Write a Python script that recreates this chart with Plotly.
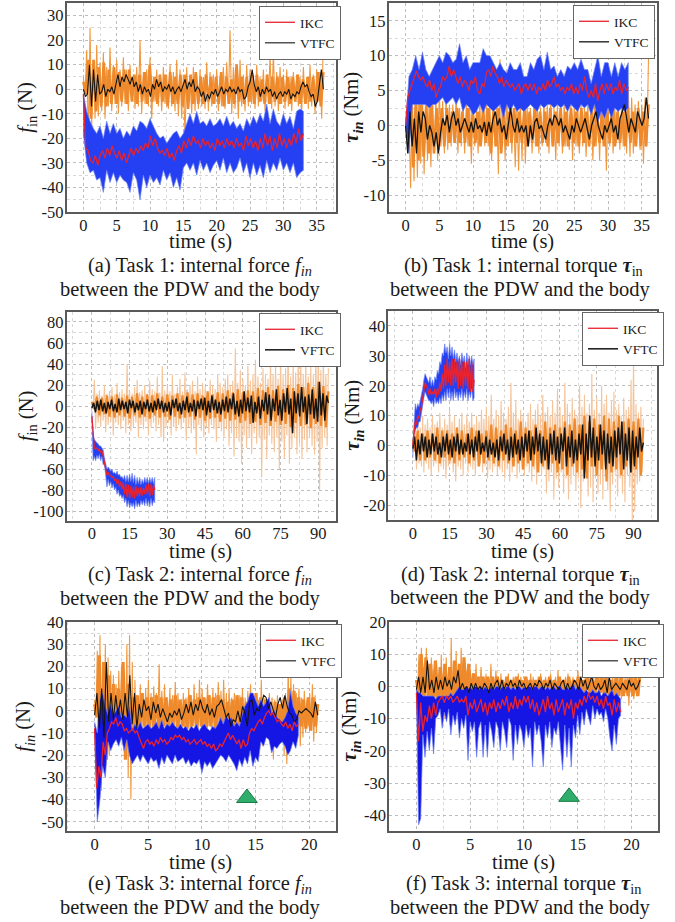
import numpy as np
import plotly.graph_objects as go

W, H = 675, 922

# ---------- Task 1 force ----------
a_ikc_end = 33; a_vtfc_end = 36
a_ikc_hi = [-2,-9,-13,-16,-18,-15,-20,-13,-18,-14,-18,-16,-20,-17,-19,-15,-17,-13,-14,-16,-12,-15,-18,-20,-19,-22,-20,-18,-17,-20,-18,-14,-10,-14,-9,-14,-13,-15,-12,-15,-14,-12,-15,-11,-15,-13,-16,-14,-17,-12,-15,-11,-14,-10,-13,-6,-14,-8,-13,-15,-10,-14,-11,-16,-9,-8,-9]
a_ikc_lo = [-18,-30,-34,-33,-37,-36,-42,-33,-38,-34,-38,-35,-37,-38,-42,-34,-37,-45,-35,-40,-35,-38,-36,-39,-33,-37,-34,-40,-36,-41,-32,-30,-33,-30,-35,-29,-33,-30,-34,-31,-29,-33,-28,-34,-30,-34,-32,-28,-34,-30,-36,-30,-35,-31,-36,-29,-34,-30,-33,-28,-33,-30,-34,-30,-36,-34,-33]
a_ikc_mean = [-2,-24,-25,-29,-30,-27,-31,-27,-25,-28,-24,-27,-23,-26,-28,-25,-29,-26,-30,-27,-24,-27,-24,-26,-23,-25,-22,-24,-19,-23,-20,-24,-26,-25,-27,-24,-28,-26,-29,-25,-23,-26,-21,-24,-20,-23,-19,-22,-21,-24,-20,-23,-21,-24,-22,-25,-20,-23,-21,-24,-20,-23,-21,-24,-20,-23,-22,-25,-19,-23,-20,-24,-21,-25,-20,-24,-18,-23,-19,-25,-20,-24,-18,-23,-20,-24,-20,-23,-18,-22,-16,-21,-18]
a_vtfc_hi = [5,16,25,12,18,11,15,9,17,10,12,8,13,8,10,6,9,20,7,8,13,5,8,6,9,6,10,7,12,8,6,9,5,9,6,8,5,11,7,6,8,5,9,11,24,9,7,12,6,10,8,6,10,5,8,6,14,15,7,9,6,8,5,7,6,5,9,5,10,6,8,7,22]
a_vtfc_lo = [-2,-22,-15,-12,-11,-9,-12,-7,-9,-6,-10,-7,-6,-9,-5,-8,-7,-10,-6,-7,-12,-5,-7,-9,-6,-8,-7,-9,-11,-12,-20,-8,-10,-9,-8,-7,-8,-9,-7,-6,-9,-7,-8,-6,-10,-8,-12,-7,-9,-7,-6,-8,-7,-5,-9,-6,-8,-7,-9,-6,-8,-7,-9,-5,-7,-9,-6,-8,-7,-10,-5,-12,-21]
a_vtfc_in_hi = [3,12,12,9,11,8,9,7,8,8,6,6,7,10,5,6,6,7,5,6,6,6,7,5,6,5,5,7,5,4,10,5,5,6,6,4,6,5,5,5,5,5,6,4,5,5,7,7]
a_vtfc_in_lo = [-2,-12,-9,-7,-7,-6,-6,-5,-6,-5,-6,-5,-6,-5,-6,-5,-7,-6,-6,-7,-8,-6,-6,-6,-5,-6,-6,-7,-6,-6,-5,-6,-5,-6,-5,-6,-6,-5,-6,-5,-6,-5,-6,-6,-5,-6,-7,-6]
a_vtfc_mean = [0,-3,-2,10,-7,8,-5,6,-2,-1,2,-3,0,-1,1,-2,2,6,1,5,3,6,4,2,5,1,3,-1,2,-2,1,-1,0,-3,2,0,4,1,3,-1,1,0,2,-1,1,-2,0,1,-1,2,4,0,3,1,4,-1,1,0,-3,-1,-5,-2,-4,-1,-2,0,-3,-1,1,-2,0,-1,1,-1,0,-2,1,-1,0,-4,-3,1,3,8,2,-1,1,-3,0,-2,1,-1,0,-3,-1,-4,-2,-1,-3,-1,-2,0,-4,-2,-3,-1,-2,1,3,1,2,-1,-3,-2,-7,-5,1,8,0]

# ---------- Task 1 torque ----------
b_ikc_end = 33; b_vtfc_end = 36
b_ikc_hi = [0,7,8,10,8,10.5,8,7,8,9,10,9,10.5,10,9,9.5,11.7,9,10,8,9,9,9,11,10,10,9,8,9,8,7.5,9,8,8,9,7,7,9,8,9.5,10,8,10.5,8,8.5,7,8,7,8.5,8,9,8,9.5,8,8,6,8,10,7,9,9,7,9,7,9,8,9]
b_ikc_lo = [0,-4,3,3,3,3,3,2.5,3,3,3.5,4,3,3.5,4,3,4,2,3,2.5,1.5,2,3,1.8,3,2.5,2,2.5,3,1,3,2,3,2,2.5,2,2.5,3,2.5,2,3,2.5,3,3,2.5,3,2.5,3,2,3,2.5,2,3,2.5,3,1.5,3,0.5,2,1,2.5,1,2.5,2,2.5,2,2.5]
b_ikc_mean = [0,4,5,6,7,7.8,7,6.5,7,6,5.5,6.5,5,6,4,5,5.5,7,6.5,7,8.5,7,8,7,6,7,5.5,6.5,6,5,6.5,6,7,5,4.5,6,5.5,7.5,8,7,8.5,7.5,7,6,7,5.5,6.5,6,5.5,6,5,5.5,6,4.5,5.5,6,5,6,5,6,4.5,5.5,5,6,5,6.5,5.5,6,7,5.5,6,5,5.5,4.5,5.5,5,6,4.5,5.5,4.5,6,5,7,5,4,5,4,6,3.5,5,6,4.5,6,5,6,4.5,5.5,5,6.5,4.5,6,5,5.5]
b_vtfc_hi = [1,1,5,4.5,6,5,4,3.5,4,4,5,3.5,4,3,3,4.5,2.5,3,3,2.5,3,2.5,3,2.5,3,3,4,2.5,9.5,3,4,3,2.5,3,3.5,2.5,3,2.5,3,3,2.5,3.5,3,4,2.5,3,2.5,3,2.5,3,3,3.5,3,2.5,3,2.5,3,2.5,3.5,3,2.5,3,2.5,3,2.5,3,5.5,4,3,3.5,3,4,10]
b_vtfc_lo = [0,-9,-8,-7.5,-5.5,-7,-5,-6,-4,-5,-3,-4,-3.5,-3,-2.5,-4,-3,-4,-3,-5.5,-3,-4,-2.5,-3,-3,-5,-3,-7,-3,-5,-3,-4,-6,-6.5,-5,-5.5,-3,-4,-3,-4,-3,-2.5,-4,-3,-5,-3,-4,-3,-3.5,-5,-3,-4,-3,-4.5,-3,-5,-3,-5,-3,-6.5,-3,-4,-2.5,-3.5,-3,-4,-4.5,-4,-3,-3.5,-5.5,-3,-1.5]
b_vtfc_in_hi = [0,4,4,3.5,3,3,2.5,2.5,2.5,2,2.5,2,2.5,2,2,2.5,2.5,2,2.5,2,2,2.5,2,2.5,2,2.5,2,2,2.5,2,2.5,2,2.5,2,2.5,2,2.5,2,2,2,3,2,2,2.5,2,2.5,2,3]
b_vtfc_in_lo = [0,-6,-5,-4.5,-4,-4,-3,-3,-2.5,-2.5,-2.5,-2.5,-3,-2.5,-3,-2.5,-4,-3,-4,-3,-2.5,-2.5,-2.5,-3,-2.5,-3,-2.5,-3,-3,-2.5,-3,-3,-2.5,-3,-2.5,-3,-3,-2.5,-3,-2.5,-3,-2.5,-3,-2.5,-3,-3,-3,-1]
b_vtfc_mean = [0,-4,2,-3,1,-4,2,-1,2,1,-2,0,-1,-3,-1,-4,-1,1,0,1.5,-1,1,2,0,1,-1,0,1,0,-1,0.5,-1,1,-0.5,0,-1,0.5,-1.5,0.5,-1,1,2,0,1,-1,0,-2,0,2.5,0,-1,1,-1,0,-1,0,-3,0,-2,0.5,1,-0.5,0,-1,-2,0,1,0,1.5,1,0,1,-1,0,-1,-2,0,-1,1,0,-1,0,1,-0.5,-2,0,1,2,0,-1,-2,0,-1,0,1,-1,0,-2,1,2,3,1,-1,1,0,-1,2,1,0,1,4,1]

# ---------- Task 2 force ----------
c_ikc_end = 25; c_vftc_end = 94
c_ikc_hi = [-5,-28,-32,-34,-35,-36,-38,-38,-40,-42,-50,-55,-60,-58,-60,-62,-60,-64,-63,-65,-62,-66,-65,-68,-67,-70,-66,-72,-66,-72,-65,-72,-64,-73,-66,-75,-68,-74,-68,-75,-70,-74,-68,-73,-68,-74,-68,-73,-68,-74,-68]
c_ikc_lo = [-10,-52,-48,-52,-47,-50,-46,-52,-48,-56,-55,-66,-77,-70,-76,-72,-78,-74,-80,-77,-84,-80,-86,-84,-88,-85,-92,-88,-96,-90,-97,-92,-96,-92,-98,-90,-96,-92,-96,-90,-94,-90,-95,-88,-95,-90,-96,-88,-95,-90,-92]
c_ikc_mean = [-10,-30,-40,-41,-40,-42,-41,-44,-43,-48,-53,-58,-66,-63,-66,-66,-68,-67,-71,-69,-74,-70,-77,-72,-79,-73,-84,-74,-87,-75,-88,-76,-87,-77,-88,-76,-86,-78,-86,-77,-85,-78,-84,-75,-84,-74,-86,-74,-85,-75,-80]
c_vftc_hi = [5,25,12,15,10,20,12,14,18,11,22,13,16,12,40,14,12,18,25,13,15,20,12,24,16,14,28,13,38,15,20,14,30,12,18,26,14,32,16,20,24,14,28,16,22,18,14,25,20,16,30,22,18,26,30,20,24,55,22,34,26,20,38,24,30,44,28,22,36,30,26,46,30,40,26,48,30,36,55,28,42,32,46,52,30,44,28,38,30,50,56,34,46,30,36]
c_vftc_lo = [-3,-22,-16,-20,-14,-25,-18,-15,-28,-16,-18,-22,-14,-26,-18,-24,-20,-16,-30,-18,-22,-15,-28,-20,-16,-24,-18,-30,-34,-20,-16,-28,-20,-24,-18,-22,-16,-32,-20,-26,-22,-46,-18,-24,-30,-20,-26,-18,-22,-34,-20,-24,-30,-22,-38,-26,-48,-30,-34,-55,-28,-40,-30,-46,-26,-36,-30,-68,-32,-50,-28,-36,-44,-30,-60,-34,-50,-28,-55,-40,-30,-46,-36,-50,-32,-44,-30,-38,-46,-34,-80,-40,-30,-38,-24]
c_vftc_in_hi = [4,9,8,10,9,11,8,10,9,12,9,11,10,12,9,11,10,12,10,13,11,12,10,14,11,13,12,15,13,16,13,15,14,17,15,18,15,19,16,20,17,21,18,22,18,23,19,14]
c_vftc_in_lo = [-3,-9,-8,-10,-11,-9,-10,-12,-9,-11,-10,-12,-9,-11,-10,-13,-10,-12,-11,-10,-13,-11,-14,-12,-11,-15,-12,-14,-13,-16,-14,-17,-15,-18,-16,-19,-15,-18,-17,-20,-16,-19,-18,-21,-17,-19,-20,-14]
c_vftc_mean = [-2,3,-6,5,-4,6,-5,3,-7,4,-3,6,-5,2,-6,7,-4,5,-3,4,-7,6,-2,5,-6,3,-4,5,-8,4,-3,6,-5,3,-6,5,-4,7,-3,5,-6,3,-5,4,-9,6,-2,7,-5,3,-8,5,-4,9,-6,3,-5,6,-10,5,-3,7,-4,8,-9,5,-6,10,-4,6,-7,4,-8,6,-5,9,-6,7,-3,12,-8,5,-10,6,-7,14,-5,8,-6,10,-16,4,-7,9,-12,6,-5,13,-8,11,-14,7,-5,16,-9,6,-14,12,-6,17,-8,7,-26,14,-7,12,-10,18,-6,9,-17,11,-8,16,-12,7,-15,23,-9,12,-14,10,3]

# ---------- Task 2 torque ----------
d_ikc_end = 25; d_vftc_end = 94
d_ikc_hi = [0,10,14,12,14,13,15,16,19,22,24,23,22,21,23,20,22,20,23,22,25,24,28,27,31,30,34,31,33,29,34,30,33,29,32,28,31,28,30,27,31,28,30,26,31,27,30,27,30,27,29]
d_ikc_lo = [-4,4,5,6,6,8,8,10,13,16,18,17,16,15,15,14,15,13,16,14,15,14,16,14,17,15,18,15,19,16,19,15,18,15,19,16,18,15,18,16,19,15,18,16,19,15,18,16,19,15,16]
d_ikc_mean = [0,5,8,7,10,9,12,13,16,19,21,20,19,17,19,17,18,17,19,16,19,17,21,18,24,19,27,20,29,21,28,20,29,20,29,21,28,19,29,20,28,19,28,20,28,19,29,18,28,18,22]
d_vftc_hi = [2,9,8,6,10,7,9,6,10,7,8,11,6,9,7,12,8,10,6,9,11,7,10,8,11,7,10,8,12,9,13,10,17,9,12,10,15,11,9,13,21,11,15,9,12,10,8,11,14,9,12,14,10,17,11,13,10,15,11,19,13,10,21,14,11,16,12,10,20,13,17,11,14,24,12,16,11,20,14,17,11,15,18,12,14,10,16,12,13,22,30,14,11,13,9]
d_vftc_lo = [-2,-8,-6,-7,-9,-6,-8,-10,-7,-6,-9,-7,-8,-11,-7,-6,-9,-12,-7,-8,-10,-6,-9,-7,-8,-10,-7,-6,-9,-7,-11,-8,-9,-7,-10,-8,-9,-11,-8,-12,-9,-7,-11,-9,-8,-10,-7,-9,-12,-8,-13,-9,-10,-8,-16,-12,-9,-18,-11,-14,-9,-16,-11,-18,-13,-10,-15,-11,-21,-12,-9,-17,-14,-19,-11,-16,-13,-18,-10,-15,-22,-13,-9,-17,-11,-16,-19,-10,-14,-25,-22,-13,-12,-9,-5]
d_vftc_in_hi = [2,5,4,5,4,6,5,5,4,6,5,4,6,5,4,5,7,6,5,7,6,5,8,6,5,7,5,8,6,7,6,8,7,9,7,10,8,9,7,10,9,8,10,8,9,8,9,6]
d_vftc_in_lo = [-2,-5,-5,-4,-5,-6,-4,-5,-6,-5,-4,-6,-5,-7,-6,-5,-6,-7,-5,-6,-7,-6,-8,-6,-7,-9,-7,-8,-6,-9,-8,-10,-7,-9,-8,-11,-7,-10,-8,-12,-9,-8,-10,-7,-9,-8,-10,-5]
d_vftc_mean = [-1,3,-5,2,-3,4,-2,3,-4,2,-3,4,-2,3,-3,1,-4,3,-2,4,-3,2,-4,3,-2,4,-3,2,-3,1,-2,4,-3,2,-4,3,-2,5,-3,1,-2,3,-4,2,-3,1,-4,2,-5,3,-2,4,-3,2,-5,3,-4,4,-3,2,-5,3,-4,4,-2,5,-5,3,-3,6,-2,4,-6,3,-5,2,-8,4,-3,5,-5,3,-6,4,-2,6,-7,3,-4,5,-6,2,-5,4,-3,7,-11,4,-5,10,-4,6,-7,3,-5,7,-3,5,-8,4,-6,3,-7,5,-4,6,-3,8,-8,4,-5,6,-9,5,-7,3,-4,6,-2,1]

# ---------- Task 3 force ----------
e_ikc_end = 19; e_vtfc_end = 20.8
e_ikc_hi = [-5,-10,5,8,2,-2,3,-2,0,2,-3,-2,-3,2,-9,-6,-8,-5,-8,-7,-6,-8,-7,-5,-8,-4,-8,-6,-7,-5,-7,-8,-6,-8,-7,-9,-7,-8,-6,-9,-7,-6,-8,-9,-7,-8,-6,-3,-6,-2,-4,-3,-7,-5,-7,-2,2,4,8,8,5,2,5,2,4,6,-1,0,-3,-4,-5,-3,0,9,2,-1,-3]
e_ikc_lo = [-8,-50,-40,-25,-30,-14,-18,-15,-13,-16,-12,-18,-13,-20,-24,-22,-20,-23,-20,-22,-24,-21,-23,-22,-26,-21,-24,-20,-22,-24,-20,-23,-22,-21,-24,-22,-25,-23,-24,-22,-28,-23,-25,-23,-26,-24,-22,-20,-21,-23,-20,-22,-24,-27,-22,-25,-21,-24,-18,-25,-21,-23,-14,-16,-12,-13,-19,-16,-17,-15,-14,-16,-20,-18,-14,-17,-11]
e_ikc_mean = [-8,-35,-25,-30,-14,-20,-10,-8,-5,-6,-3,-7,-5,-6,-9,-8,-10,-9,-8,-10,-9,-12,-15,-17,-14,-13,-15,-14,-16,-13,-15,-12,-14,-13,-15,-14,-12,-13,-11,-12,-11,-13,-12,-14,-13,-15,-14,-13,-15,-14,-13,-15,-14,-16,-15,-17,-15,-18,-17,-15,-16,-14,-12,-10,-13,-11,-13,-15,-13,-17,-13,-16,-15,-10,-8,-9,-7,-5,-4,-6,-3,-1,0,-2,-1,-3,-5,-4,-6,-7,-5,-8,-6,-9,-5,-7,-6]
e_vtfc_hi = [5,27,34,22,30,24,18,16,12,18,20,10,30,34,22,14,5,12,8,10,14,8,11,8,21,9,12,6,10,7,13,8,5,8,6,10,7,12,8,14,10,6,12,7,10,8,13,9,14,8,10,6,8,4,7,10,6,9,12,8,6,5,14,6,4,8,6,5,7,3,5,8,20,16,12,8,10,6,9,5,8,12,7,3]
e_vtfc_lo = [-3,-28,-36,-28,-20,-20,-15,-12,-10,-10,-15,-14,-30,-40,-22,-18,-7,-10,-8,-9,-7,-10,-8,-7,-9,-8,-9,-7,-10,-8,-9,-7,-8,-10,-9,-8,-7,-9,-8,-7,-10,-8,-7,-9,-8,-10,-9,-8,-7,-10,-8,-7,-9,-7,-8,-9,-7,-8,-10,-7,-9,-12,-16,-8,-7,-9,-22,-12,-10,-14,-20,-24,-18,-12,-10,-8,-16,-12,-10,-7,-9,-14,-10,-5]
e_vtfc_in_hi = [3,25,22,16,12,10,22,12,6,7,8,6,6,7,6,6,5,7,5,5,7,5,6,6,7,6,7,5,4,5,7,6,4,5,8,6,5,4,4,3,6,10,9,6,5,6,6,3]
e_vtfc_in_lo = [-3,-24,-22,-14,-10,-10,-22,-14,-7,-8,-7,-8,-7,-8,-7,-8,-7,-8,-7,-8,-7,-8,-7,-8,-7,-8,-7,-8,-7,-8,-7,-10,-7,-9,-12,-10,-12,-14,-12,-8,-10,-10,-8,-7,-8,-9,-7,-5]
e_vtfc_mean = [-2,8,-8,10,-12,22,-5,8,-4,7,-2,5,-4,8,-3,16,-6,8,-8,3,-3,5,0,2,-4,4,-1,3,-3,1,-2,-5,-1,-3,0,-2,1,-4,-1,3,-1,4,-2,3,0,5,1,-1,3,-2,1,-3,2,3,5,1,-3,-1,-7,-4,-5,0,-5,2,-1,-7,4,5,-2,1,0,3,7,6,1,4,1,-3,3,6,1,7,2,-1,-2,-5,-4,0,-1,0,1,0,-1,-3,4,-2]

# ---------- Task 3 torque ----------
f_ikc_end = 19; f_vftc_end = 20.8
f_ikc_hi = [-1,-2,-2,-3,-3,-3,-3,-3,-3,-4,-3,-3,-3,-3,-3,-3,-2,-3,-2,-1,0,-1,-1,0,-1,0,-1,0,0,-1,0,-1,0,-1,-1,0,-1,0,0,-1,0,-1,0,0,-1,0,-1,0,0,-1,0,-1,0,0,-1,0,0,-1,0,0,-1,0,-1,0,0,-1,0,0,-1,-1,0,-1,0,1,-1,0,0,-1,-2,-1,-2,-2,-1,-2,-2,-1,-3,-2,-2,-3,-2,-1,-3,-2,-3,-4]
f_ikc_lo = [-3,-43,-41,-15,-22,-14,-20,-13,-21,-10,-9,-7,-13,-8,-11,-7,-15,-9,-12,-8,-16,-10,-13,-9,-23,-11,-14,-11,-22,-13,-11,-22,-12,-22,-11,-14,-19,-11,-13,-20,-11,-14,-19,-10,-12,-23,-12,-18,-12,-14,-19,-12,-16,-13,-25,-11,-15,-12,-17,-25,-12,-16,-11,-19,-13,-15,-11,-17,-26,-12,-22,-13,-25,-12,-16,-9,-15,-8,-12,-7,-9,-12,-6,-10,-7,-9,-8,-11,-7,-10,-16,-20,-12,-18,-10,-9]
f_ikc_mean = [-2,-17,-5,-14,-9,-11,-6,-10,-5,-9,-5,-4,-3,-5,-3,-4,-3,-5,-4,-3,-5,-4,-5,-3,-9,-5,-7,-4,-8,-6,-4,-8,-5,-9,-5,-7,-4,-8,-5,-7,-4,-6,-3,-8,-5,-7,-3,-7,-4,-6,-3,-5,-3,-7,-4,-8,-5,-9,-6,-4,-8,-3,-7,-5,-9,-4,-8,-6,-4,-9,-5,-7,-4,-10,-5,-7,-4,-6,-3,-5,-2,-4,-3,-5,-3,-6,-4,-7,-3,-6,-5,-9,-4,-8,-5,-8]
f_vftc_hi = [2,10,12,6,12,7,9,5,8,4,10,7,9,5,15,6,11,7,12,5,5,3,2,4,7,3,6,3,4,2,7,3,5,3,4,2,3,4,2,3,2,4,3,2,3,2,4,3,2,3,4,2,3,2,4,2,3,5,3,2,3,4,2,3,2,5,3,2,3,8,3,5,3,2,4,3,5,3,2,4,3,5,2,4,3,6,3,4,3,2,6]
f_vftc_lo = [-2,-5,-3,-6,-4,-7,-5,-8,-6,-8,-6,-10,-7,-12,-9,-11,-8,-6,-4,-3,-3,-2,-3,-2,-3,-2,-2,-3,-2,-2,-3,-2,-2,-3,-2,-3,-2,-2,-3,-2,-2,-3,-2,-2,-3,-2,-2,-3,-2,-2,-3,-2,-2,-2,-3,-2,-2,-3,-2,-2,-3,-2,-2,-3,-2,-2,-3,-2,-2,-3,-2,-3,-2,-3,-2,-3,-3,-2,-3,-4,-3,-3,-4,-3,-2,-6,-2,-4,-2,-3,-6]
f_vftc_in_hi = [2,10,9,7,8,6,7,6,8,7,9,7,4,3,3,3,3,3,2,3,2,3,2,3,2,2,3,2,3,2,3,2,3,2,3,2,3,2,4,3,3,2,3,3,2,3,3,4]
f_vftc_in_lo = [-2,-4,-4,-5,-5,-5,-6,-7,-7,-6,-5,-4,-2,-2,-2,-2,-2,-2,-2,-2,-2,-2,-2,-2,-2,-2,-2,-2,-2,-2,-2,-2,-2,-2,-2,-2,-2,-2,-2,-3,-3,-3,-3,-3,-3,-3,-3,-3]
f_vftc_mean = [-1,3,-2,3,-2,8,-1,2,-2,3,-1,2,-1,3,0,2,-1,3,1,5,-1,1,-1,0,-2,1,-1,1,-1,0,-1,1,0,-2,1,-1,1,2,-1,2,-1,1,0,2,0,1,-1,2,0,1,-1,0,1,-1,1,0,2,1,-1,1,0,2,-1,1,0,-1,1,2,-1,1,-1,0,2,1,-1,3,0,2,-1,1,3,0,-1,1,-1,0,2,-2,3,-1,0,1,0,-1,1,0,-1,2,0,1,-1,0,2]

# ---------- Axis labels ----------
a_yticks = [30,20,10,0,-10,-20,-30,-40,-50]
b_yticks = [15,10,5,0,-5,-10]
c_yticks = [80,60,40,20,0,-20,-40,-60,-80,-100]
d_yticks = [40,30,20,10,0,-10,-20]
e_yticks = [40,30,20,10,0,-10,-20,-30,-40,-50]
f_yticks = [20,10,0,-10,-20,-30,-40]
x_ticks_t1 = [0,5,10,15,20,25,30,35]
x_ticks_t2 = [0,15,30,45,60,75,90]
x_ticks_t3 = [0,5,10,15,20]
marker_x = 14.2
marker_e_y = -39.3
marker_f_y = -34.3

ORANGE = "#EF8A2C"
BLUE, BLUE_PALE = "#2440F2", "rgba(110,130,245,0.7)"
BLUE_DEEP = "#1616E4"
FONT = "Liberation Serif"


def band(hi, lo, end, fill, line, lw, xa, ya):
    xh = np.linspace(0, end, len(hi))
    xl = np.linspace(0, end, len(lo))
    return go.Scatter(x=np.r_[xh, xl[::-1]], y=np.r_[hi, lo[::-1]], mode="lines", fill="toself",
                      fillcolor=fill, line=dict(color=line, width=lw), showlegend=False,
                      hoverinfo="skip", xaxis=xa, yaxis=ya)


def spikes(hi, lo, end, color, lw, xa, ya):
    # thin strokes running between the upper and lower readings
    xh = np.linspace(0, end, len(hi))
    xl = np.linspace(0, end, len(lo))
    step = xl[1] - xl[0]
    xs = np.r_[xh, xl + step / 2]
    ys = np.r_[hi, lo]
    order = np.argsort(xs, kind="stable")
    keep = xs[order] <= end
    return go.Scatter(x=xs[order][keep], y=ys[order][keep], mode="lines", line=dict(color=color, width=lw),
                      showlegend=False, hoverinfo="skip", xaxis=xa, yaxis=ya)


panels = [
 dict(key="a", box=(66.7, 335.7, 3.3, 212), xr=(-2.5, 37.85), yr=(-50, 35), yt=a_yticks, xt=x_ticks_t1, xm=2.5, ym=5,
      ikc=(a_ikc_hi, a_ikc_lo, a_ikc_mean, a_ikc_end), oth=(a_vtfc_hi, a_vtfc_lo, a_vtfc_mean, a_vtfc_end), name="VTFC",
      inner=(a_vtfc_in_hi, a_vtfc_in_lo), spike="#F0983F", blk=1.1, core=2.6,
      ytitle="<i>f</i><sub>in</sub> (N)", ytx=27, leg=(259, 6),
      cap=("(a) Task 1: internal force <i>f<sub>in</sub></i>", 200, 266, 190, 289), tx=201, ty=241, blue=BLUE),
 dict(key="b", box=(388.7, 657.3, 3.3, 212), xr=(-2.5, 37.3), yr=(-12.4, 17.5), yt=b_yticks, xt=x_ticks_t1, xm=2.5, ym=2.5,
      ikc=(b_ikc_hi, b_ikc_lo, b_ikc_mean, b_ikc_end), oth=(b_vtfc_hi, b_vtfc_lo, b_vtfc_mean, b_vtfc_end), name="VTFC",
      inner=(b_vtfc_in_hi, b_vtfc_in_lo), spike="#F0983F", blk=1.3, core=2.6,
      ytitle="<b><i>τ<sub>in</sub></i></b> (Nm)", ytx=353, leg=(573, 5),
      cap=("(b) Task 1: internal torque <b><i>τ</i></b><sub>in</sub>", 523.7, 266, 520, 289), tx=522.7, ty=241, blue=BLUE),
 dict(key="c", box=(66.7, 335.7, 311.7, 520.7), xr=(-10, 96.9), yr=(-109.2, 89.8), yt=c_yticks, xt=x_ticks_t2, xm=7.5, ym=10,
      ikc=(c_ikc_hi, c_ikc_lo, c_ikc_mean, c_ikc_end), oth=(c_vftc_hi, c_vftc_lo, c_vftc_mean, c_vftc_end), name="VFTC",
      inner=(c_vftc_in_hi, c_vftc_in_lo), spike="#F5C49A", blk=1.5, core=2.2,
      ytitle="<i>f</i><sub>in</sub> (N)", ytx=27, leg=(259, 313),
      cap=("(c) Task 2: internal force <i>f<sub>in</sub></i>", 200, 575.7, 190, 598), tx=201, ty=551.5, blue=BLUE),
 dict(key="d", box=(388.3, 657.3, 311, 520.3), xr=(-10, 99.7), yr=(-25, 45), yt=d_yticks, xt=x_ticks_t2, xm=7.5, ym=5,
      ikc=(d_ikc_hi, d_ikc_lo, d_ikc_mean, d_ikc_end), oth=(d_vftc_hi, d_vftc_lo, d_vftc_mean, d_vftc_end), name="VFTC",
      inner=(d_vftc_in_hi, d_vftc_in_lo), spike="#F5C49A", blk=1.5, core=2.2,
      ytitle="<b><i>τ<sub>in</sub></i></b> (Nm)", ytx=354, leg=(582, 312),
      cap=("(d) Task 2: internal torque <b><i>τ</i></b><sub>in</sub>", 520.5, 575, 520, 597.7), tx=522.7, ty=551.5, blue=BLUE),
 dict(key="e", box=(66.7, 336, 622, 831.3), xr=(-2.6, 22.5), yr=(-54.3, 40), yt=e_yticks, xt=x_ticks_t3, xm=2.5, ym=5,
      ikc=(e_ikc_hi, e_ikc_lo, e_ikc_mean, e_ikc_end), oth=(e_vtfc_hi, e_vtfc_lo, e_vtfc_mean, e_vtfc_end), name="VTFC",
      inner=(e_vtfc_in_hi, e_vtfc_in_lo), spike="#F0983F", blk=1.1, core=3.2,
      ytitle="<i>f<sub>in</sub></i> (N)", ytx=25, leg=(260, 624), marker=marker_e_y,
      cap=("(e) Task 3: internal force <i>f<sub>in</sub></i>", 200, 884, 190, 907), tx=201, ty=862, blue=BLUE_DEEP),
 dict(key="f", box=(389, 658.3, 622, 831.3), xr=(-2.55, 22.5), yr=(-45, 20), yt=f_yticks, xt=x_ticks_t3, xm=2.5, ym=5,
      ikc=(f_ikc_hi, f_ikc_lo, f_ikc_mean, f_ikc_end), oth=(f_vftc_hi, f_vftc_lo, f_vftc_mean, f_vftc_end), name="VFTC",
      inner=(f_vftc_in_hi, f_vftc_in_lo), spike="#F0983F", blk=1.1, core=3.2,
      ytitle="<b><i>τ<sub>in</sub></i></b> (Nm)", ytx=351, leg=(582, 624), marker=marker_f_y,
      cap=("(f) Task 3: internal torque <b><i>τ</i></b><sub>in</sub>", 523.7, 884, 520, 907), tx=523, ty=862, blue=BLUE_DEEP),
]

fig = go.Figure()
layout = dict(width=W, height=H, margin=dict(l=0, r=0, t=0, b=0, autoexpand=False), paper_bgcolor="white", plot_bgcolor="white",
              font=dict(family=FONT, color="#1a1a1a", size=15))
ann = []
for i, p in enumerate(panels, 1):
    s = "" if i == 1 else str(i)
    xa, ya = "x" + s, "y" + s
    lg = "legend" + s
    x0, x1, y0, y1 = p["box"]
    grid = dict(showgrid=True, gridcolor="#bdbdbd", griddash="dot", gridwidth=1, zeroline=False,
                showline=True, linecolor="#5a5a5a", linewidth=1.6, mirror=True, ticks="", tickfont=dict(size=16.5))
    layout["xaxis" + s] = dict(grid, domain=[x0 / W, x1 / W], range=p["xr"], anchor=ya, tickmode="array",
                               tickvals=p["xt"], ticktext=[str(v) for v in p["xt"]], ticklabelstandoff=-3,
                               minor=dict(tickmode="linear", tick0=0, dtick=p["xm"], showgrid=True,
                                          gridcolor="#d8d8d8", griddash="dot", gridwidth=1))
    layout["yaxis" + s] = dict(grid, domain=[1 - y1 / H, 1 - y0 / H], range=p["yr"], anchor=xa, tickmode="array",
                               tickvals=p["yt"], ticktext=[str(v) for v in p["yt"]], ticklabelstandoff=-2,
                               minor=dict(tickmode="linear", tick0=0, dtick=p["ym"], showgrid=True,
                                          gridcolor="#d8d8d8", griddash="dot", gridwidth=1))
    hi, lo, mean, end = p["oth"]
    fig.add_trace(spikes(hi, lo, end, p["spike"], 1.1, xa, ya))
    fig.add_trace(spikes(p["inner"][0], p["inner"][1], end, ORANGE, p["core"], xa, ya))
    h2, l2, m2, e2 = p["ikc"]
    fig.add_trace(band(h2, l2, e2, p["blue"], BLUE_PALE, 1, xa, ya))
    fig.add_trace(go.Scatter(x=np.linspace(0, end, len(mean)), y=mean, mode="lines", name=p["name"],
                             line=dict(color="#141414", width=p["blk"]), xaxis=xa, yaxis=ya, legend=lg, legendrank=2))
    fig.add_trace(go.Scatter(x=np.linspace(0, e2, len(m2)), y=m2, mode="lines", name="IKC",
                             line=dict(color="#E8222E", width=1.3), xaxis=xa, yaxis=ya, legend=lg, legendrank=1))
    if "marker" in p:
        fig.add_trace(go.Scatter(x=[marker_x], y=[p["marker"]], mode="markers", showlegend=False, hoverinfo="skip",
                                 marker=dict(symbol="triangle-up", size=18, color="#2FAE6B",
                                             line=dict(color="#187A45", width=1)), xaxis=xa, yaxis=ya))
    layout[lg] = dict(x=p["leg"][0] / W, y=1 - p["leg"][1] / H, xanchor="left", yanchor="top",
                      bgcolor="white", bordercolor="#666", borderwidth=1, font=dict(size=13.5, family=FONT),
                      itemwidth=30, tracegroupgap=0, entrywidth=36, entrywidthmode="pixels")

    def txt(t, px, py, size, angle=0):
        return dict(text=t, x=px / W, y=1 - py / H, xref="paper", yref="paper", showarrow=False,
                    xanchor="center", yanchor="middle", font=dict(size=size, family=FONT, color="#1a1a1a"), textangle=angle)
    ann.append(txt("time (s)", p["tx"], p["ty"], 20.5))
    ann.append(txt(p["ytitle"], p["ytx"], (y0 + y1) / 2, 20.5, -90))
    ann.append(txt(p["cap"][0], p["cap"][1], p["cap"][2], 20.5))
    ann.append(txt("between the PDW and the body", p["cap"][3], p["cap"][4], 20.5))

layout["annotations"] = ann
fig.update_layout(**layout)
fig.write_html("out.html", post_script="document.body.style.margin='0';", config={"displayModeBar": False})
